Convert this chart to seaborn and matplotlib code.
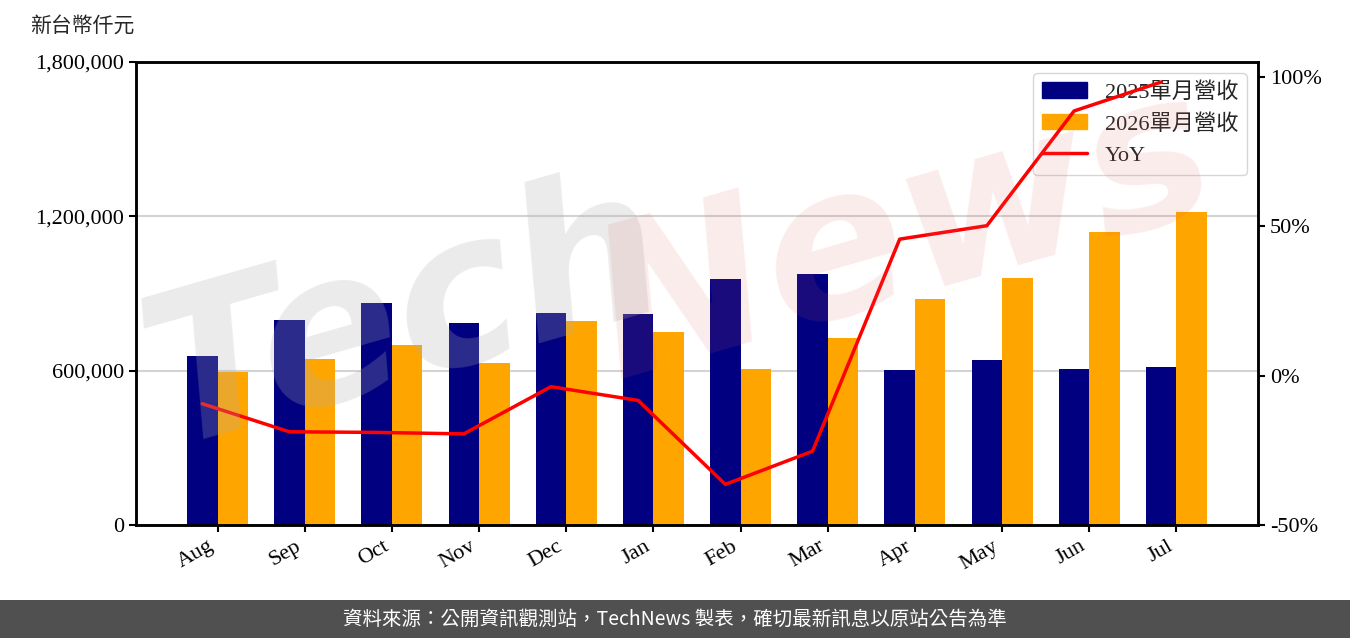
import numpy as np
import pandas as pd
import matplotlib
matplotlib.use('Agg')
import matplotlib.pyplot as plt
import seaborn as sns
from matplotlib.ticker import FuncFormatter, FixedLocator
from matplotlib.patches import Patch, Rectangle
from matplotlib.lines import Line2D

# 月份與營收（新台幣仟元）
months = ['Aug', 'Sep', 'Oct', 'Nov', 'Dec', 'Jan', 'Feb', 'Mar', 'Apr', 'May', 'Jun', 'Jul']
rev_2025 = [657000, 797000, 863000, 785000, 824000, 820000, 956000, 976000, 603000, 641000, 606000, 614000]
rev_2026 = [595000, 645000, 700000, 630000, 793000, 750000, 606000, 727000, 879000, 960000, 1139000, 1217000]
yoy = [-9.4, -18.8, -19.0, -19.5, -3.7, -8.3, -36.4, -25.3, 45.7, 50.2, 88.6, 98.3]

label_a = '2025單月營收'
label_b = '2026單月營收'
left_ticks = [0, 600000, 1200000, 1800000]
right_ticks = [-50, 0, 50, 100]

sns.set_style('white')
plt.rcParams['font.family'] = ['Liberation Serif', 'Noto Sans CJK TC']

df = pd.DataFrame({
    'month': months * 2,
    'rev': rev_2025 + rev_2026,
    'year': [label_a] * len(months) + [label_b] * len(months),
})

fig = plt.figure(figsize=(13.5, 6.38), dpi=100)
ax = fig.add_axes([136 / 1350, 113 / 638, 1122 / 1350, 463 / 638])

bar_w = 0.7
sns.barplot(data=df, x='month', y='rev', hue='year', order=months,
            palette=['#000080', '#FFA500'], width=bar_w, gap=0, saturation=1,
            linewidth=0, legend=False, ax=ax, zorder=2)

ax.set_xlim(-0.935, len(months) - 1 + 0.935)
ax.set_ylim(0, 1800000)
ax.yaxis.set_major_locator(FixedLocator(left_ticks))
ax.yaxis.set_major_formatter(FuncFormatter(lambda v, p: f'{v:,.0f}'))
ax.set_axisbelow(True)
ax.grid(axis='y', color='#d3d3d3', linewidth=1.5)
ax.set_xlabel('')
ax.set_ylabel('')
ax.tick_params(axis='both', labelsize=16, length=5, width=1.5, colors='black', direction='out',
               left=True, bottom=True)
plt.setp(ax.get_xticklabels(), rotation=30, ha='right')

# YoY 折線（對齊前一年長條中心）
ax2 = ax.twinx()
sns.lineplot(x=np.arange(len(months)) - bar_w / 4, y=yoy, color='red', linewidth=2.5, ax=ax2)
ax2.set_ylim(-50, 105)
ax2.yaxis.set_major_locator(FixedLocator(right_ticks))
ax2.yaxis.set_major_formatter(FuncFormatter(lambda v, p: f'{v:.0f}%'))
ax2.tick_params(axis='y', labelsize=16, length=5, width=1.5, colors='black', right=True)
ax2.set_ylabel('')

for a in (ax, ax2):
    for s in a.spines.values():
        s.set_visible(True)
        s.set_color('black')
        s.set_linewidth(1.8)

handles = [Patch(color='#000080'), Patch(color='#FFA500'), Line2D([], [], color='red', linewidth=2.5)]
ax.legend(handles, [label_a, label_b, 'YoY'], loc='upper right', fontsize=16, frameon=True,
          edgecolor='#cccccc', framealpha=0.8)

# 浮水印
fig.text(0.30, 0.50, 'Tech', rotation=16, fontsize=150, color='#b0b0b0', alpha=0.25,
         weight='bold', style='italic', ha='center', va='center', family='DejaVu Sans', zorder=10)
fig.text(0.67, 0.63, 'News', rotation=16, fontsize=150, color='#e06060', alpha=0.12,
         weight='bold', style='italic', ha='center', va='center', family='DejaVu Sans', zorder=10)

fig.text(30 / 1350, 1 - 27 / 638, '新台幣仟元', fontsize=15, ha='left', va='center')

# 底部資料來源
fig.add_artist(Rectangle((0, 0), 1, 38 / 638, transform=fig.transFigure,
                         facecolor='#505050', edgecolor='none', zorder=0))
fig.text(0.5, 19 / 638, '資料來源：公開資訊觀測站，TechNews 製表，確切最新訊息以原站公告為準',
         color='white', fontsize=14, ha='center', va='center',
         family=['Noto Sans CJK TC', 'DejaVu Sans'])

fig.savefig('out.png', dpi=100)
